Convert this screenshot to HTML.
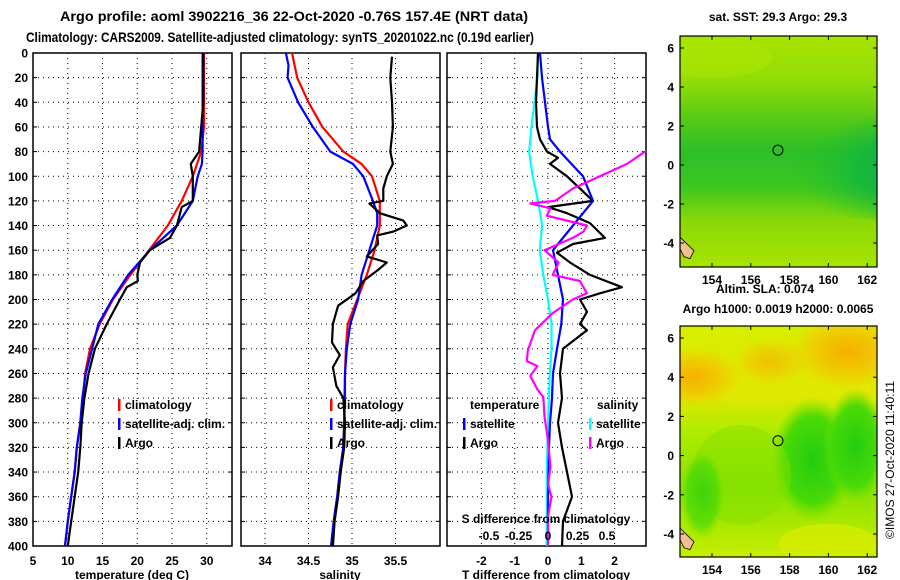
<!DOCTYPE html>
<html><head><meta charset="utf-8">
<style>
html,body{margin:0;padding:0;background:#fff;}
svg{display:block;font-family:"Liberation Sans",Arial,sans-serif;font-weight:bold;}
</style></head>
<body>
<svg id="chart" width="900" height="580" viewBox="0 0 900 580" xmlns="http://www.w3.org/2000/svg">
<defs>
<radialGradient id="sstTeal" cx="0.85" cy="0.55" r="0.6"><stop offset="0" stop-color="#00aa55"/><stop offset="0.6" stop-color="#10b640" stop-opacity="0.8"/><stop offset="1" stop-color="#22c030" stop-opacity="0"/></radialGradient>
<linearGradient id="sstBase" x1="0" y1="0" x2="0" y2="1">
<stop offset="0" stop-color="#a8e400"/><stop offset="0.2" stop-color="#90dc08"/><stop offset="0.38" stop-color="#50c818"/><stop offset="0.5" stop-color="#2cbf28"/><stop offset="0.65" stop-color="#3cc620"/><stop offset="0.8" stop-color="#8ad808"/><stop offset="1" stop-color="#a8e400"/></linearGradient>
<linearGradient id="slaBase" x1="0" y1="0" x2="0" y2="1">
<stop offset="0" stop-color="#d8ee00"/><stop offset="0.3" stop-color="#e0e800"/><stop offset="0.45" stop-color="#b0ec00"/><stop offset="0.7" stop-color="#88e200"/><stop offset="1" stop-color="#c8ee00"/></linearGradient>
<radialGradient id="orange" cx="0.5" cy="0.5" r="0.5"><stop offset="0" stop-color="#f5b000"/><stop offset="0.5" stop-color="#f5c000" stop-opacity="0.8"/><stop offset="1" stop-color="#f5c800" stop-opacity="0"/></radialGradient>
<radialGradient id="greenP" cx="0.5" cy="0.5" r="0.5"><stop offset="0" stop-color="#22cc10"/><stop offset="0.7" stop-color="#40d808" stop-opacity="0.9"/><stop offset="1" stop-color="#70e000" stop-opacity="0"/></radialGradient>
<clipPath id="c1"><rect x="33" y="53" width="199" height="493"/></clipPath>
<clipPath id="c2"><rect x="241" y="53" width="199" height="493"/></clipPath>
<clipPath id="c3"><rect x="447" y="53" width="199" height="493"/></clipPath>
<clipPath id="cm1"><rect x="680" y="36" width="197" height="231"/></clipPath>
<clipPath id="cm2"><rect x="680" y="326" width="197" height="231"/></clipPath>
</defs>
<text x="294" y="21" font-size="14" text-anchor="middle" textLength="468" lengthAdjust="spacingAndGlyphs">Argo profile: aoml 3902216_36 22-Oct-2020 -0.76S 157.4E (NRT data)</text>
<text x="280" y="42" font-size="14" text-anchor="middle" textLength="508" lengthAdjust="spacingAndGlyphs">Climatology: CARS2009. Satellite-adjusted climatology: synTS_20201022.nc (0.19d earlier)</text>
<g id="g"></g>
</svg>
<script>
// ---- data ----
const depthTicks = [0,20,40,60,80,100,120,140,160,180,200,220,240,260,280,300,320,340,360,380,400];
const tempTicks = [5,10,15,20,25,30];
const salTicks = ["34","34.5","35","35.5"];
const tdiffTicks = [-2,-1,0,1,2];
const sdiffTicks = [-0.5,-0.25,0,0.25,0.5];
const sdiffTickLabels = ["-0.5","-0.25","0","0.25","0.5"];
const lonTicks = [154,156,158,160,162];
const latTicks = [-4,-2,0,2,4,6];

const tClimDepth = [0,20,40,60,80,100,120,140,160,180,200,220,240,260,280,300,320,340,360,380,400];
const tClimVal   = [29.6,29.6,29.6,29.6,29.2,28.0,26.4,24.4,21.7,19.0,16.5,14.6,13.2,12.5,12.2,11.8,11.3,11.0,10.5,10.0,9.6];
const tSatDepth  = [0,20,40,60,80,90,100,120,140,160,180,200,220,240,260,280,300,320,340,360,380,400];
const tSatVal    = [29.4,29.4,29.4,29.4,29.4,29.3,28.7,28.0,25.7,21.8,18.7,16.4,14.4,13.5,12.6,12.1,11.8,11.3,11.0,10.5,10.0,9.6];
const tArgoDepth = [0,20,40,60,80,90,100,120,125,140,150,160,170,180,185,190,200,220,240,260,280,300,320,340,360,380,400];
const tArgoVal   = [29.5,29.5,29.5,29.2,28.9,27.7,28.0,28.0,26.4,25.7,24.7,21.8,20.4,20.0,20.1,18.5,17.5,15.6,13.9,13.0,12.4,12.0,11.8,11.5,11.0,10.5,10.0];

const sClimDepth = [0,20,40,60,80,90,100,120,140,160,180,200,220,240,260,280,300,320,340,360,380,400];
const sClimVal   = [34.31,34.37,34.50,34.66,34.90,35.11,35.23,35.32,35.32,35.26,35.17,35.06,34.95,34.93,34.92,34.92,34.91,34.90,34.86,34.83,34.79,34.76];
const sSatDepth  = [0,10,20,40,60,80,90,100,120,130,140,160,180,200,220,240,260,300,320,340,360,380,400];
const sSatVal    = [34.24,34.27,34.26,34.38,34.55,34.75,35.01,35.13,35.24,35.29,35.29,35.20,35.11,35.07,34.98,34.94,34.92,34.91,34.90,34.86,34.83,34.79,34.76];
const sArgoDepth = [3,20,40,60,80,90,100,110,120,122,130,136,140,145,148,155,165,170,176,185,195,205,220,235,245,255,270,280,300,320,340,360,380,400];
const sArgoVal   = [35.46,35.44,35.46,35.47,35.44,35.47,35.40,35.36,35.36,35.20,35.32,35.59,35.63,35.47,35.29,35.30,35.17,35.40,35.30,35.13,35.04,34.84,34.78,34.77,34.86,34.78,34.82,34.90,34.92,34.91,34.87,34.84,34.80,34.78];

const dTSatDepth = [0,20,40,60,70,80,100,120,140,160,180,200,220,240,260,280,300,320,360,400];
const dTSatVal   = [-0.24,-0.18,-0.09,0,0.06,0.36,1.05,1.35,0.75,0.15,0.30,0.45,0.40,0.27,0.15,0.12,0.06,0.03,0.0,0.0];
const dTArgoDepth = [0,20,40,60,70,80,85,90,100,120,125,130,138,150,155,162,170,180,190,195,200,210,220,225,240,260,280,300,320,340,360,380,400];
const dTArgoVal   = [-0.30,-0.33,-0.36,-0.33,-0.24,-0.03,0.30,0.06,0.57,1.35,0.0,0.57,1.26,1.71,0.75,0.27,0.66,1.26,2.22,1.56,0.96,1.17,0.96,1.17,0.45,0.36,0.42,0.30,0.42,0.57,0.72,0.45,0.42];
const dSSatDepth = [0,20,60,80,100,120,140,160,180,200,220,240,260,300,340,380,400];
const dSSatVal   = [-0.085,-0.09,-0.14,-0.16,-0.13,-0.085,-0.05,-0.07,-0.04,0.0,0.03,0.03,0.015,0.0,-0.01,-0.01,-0.01];
const dSArgoDepth = [75,90,100,110,120,122,126,132,140,145,150,160,170,180,185,195,200,211,225,241,250,254,262,273,279,295,314,336,350,360,376,400];
const dSArgoVal   = [0.90,0.67,0.44,0.21,0.06,-0.15,0.02,-0.01,0.33,0.30,0.21,-0.03,0.09,0.04,0.27,0.33,0.21,0.04,-0.11,-0.17,-0.18,-0.09,-0.15,-0.09,-0.04,-0.03,0.0,0.02,0.0,0.03,0.0,0.0];

// ---- scales ----
const yD = d => 53 + d*1.2325;
const xT = t => 33 + (t-5)*6.95;
const xS = s => 265 + (s-34)*87;
const xDT = t => 548 + t*33.3;
const xDS = s => 548 + s*118;
const xLon = l => 712 + (l-154)*19.4;
const yLat1 = a => 48 + (6-a)*19.5;
const yLat2 = a => 338 + (6-a)*19.6;

const NS="http://www.w3.org/2000/svg";
const G=document.getElementById('g');
function el(tag,attrs,parent){const e=document.createElementNS(NS,tag);for(const k in attrs)e.setAttribute(k,attrs[k]);(parent||G).appendChild(e);return e;}
function txt(s,x,y,anchor,size,parent){const t=el('text',{x:x,y:y,'text-anchor':anchor||'middle','font-size':size||12},parent);t.textContent=s;return t;}

function panel(name,x0,clip,xticks,xfn,labels){
  const g=el('g',{});
  
  
  depthTicks.forEach(d=>{ if(d>0&&d<400){const l=el('line',{x1:x0,x2:x0+199,y1:yD(d),y2:yD(d),stroke:'#000','stroke-width':1,'stroke-dasharray':'1,4'},g);
    
    }
    el('line',{x1:x0,x2:x0+4,y1:yD(d),y2:yD(d),stroke:'#000'},g);
    el('line',{x1:x0+195,x2:x0+199,y1:yD(d),y2:yD(d),stroke:'#000'},g);
  });
  xticks.forEach((v,i)=>{const x=xfn(v);
    const l=el('line',{x1:x,x2:x,y1:53,y2:546,stroke:'#000','stroke-dasharray':'1,4'},g);
    
    
    const t=txt(labels?labels[i]:String(v),x,565,'middle',12,g);
    
    
  });
  const r=el('rect',{x:x0,y:53,width:199,height:493,fill:'none',stroke:'#000','stroke-width':1.5},g);
  
  
  return g;
}
function line(depths,vals,xfn,color,clip,name){
  const pts=depths.map((d,i)=>xfn(vals[i]).toFixed(1)+','+yD(d).toFixed(1)).join(' ');
  const p=el('polyline',{points:pts,fill:'none',stroke:color,'stroke-width':2.2,'stroke-linejoin':'round','clip-path':'url(#'+clip+')'});
  
  
}

depthTicks.forEach(d=>{const t=txt(String(d),28,yD(d)+4.5,'end',12);
  
  });

panel('temperature-panel',33,'c1',tempTicks,xT);
panel('salinity-panel',241,'c2',salTicks.map(Number),xS,salTicks);
panel('difference-panel',447,'c3',tdiffTicks,xDT);

line(tClimDepth,tClimVal,xT,'#ff0000','c1','temp-climatology-line');
line(tSatDepth,tSatVal,xT,'#0000ff','c1','temp-satellite-line');
line(tArgoDepth,tArgoVal,xT,'#000000','c1','temp-argo-line');
line(sClimDepth,sClimVal,xS,'#ff0000','c2','sal-climatology-line');
line(sSatDepth,sSatVal,xS,'#0000ff','c2','sal-satellite-line');
line(sArgoDepth,sArgoVal,xS,'#000000','c2','sal-argo-line');
line(dSSatDepth,dSSatVal,xDS,'#00ffff','c3','sdiff-satellite-line');
line(dTArgoDepth,dTArgoVal,xDT,'#000000','c3','tdiff-argo-line');
line(dTSatDepth,dTSatVal,xDT,'#0000ff','c3','tdiff-satellite-line');
line(dSArgoDepth,dSArgoVal,xDS,'#ff00ff','c3','sdiff-argo-line');

[['temperature (deg C)',132,'temperature-axis-title'],['salinity',340,'salinity-axis-title'],['T difference from climatology',546,'tdiff-axis-title']].forEach(a=>{
  const t=txt(a[0],a[1],579,'middle',12);
  
  });
const sdt=txt('S difference from climatology',546,523,'middle',12);


sdiffTicks.forEach((v,i)=>{const t=txt(sdiffTickLabels[i],xDS(v),540,'middle',12);
  
  });

function leg(x,y,color,label,name){
  const g=el('g',{});
  
  
  el('rect',{x:x,y:y-10,width:2.5,height:12,fill:color},g);
  txt(label,x+7,y,'start',12,g);
}
leg(118,409,'#ff0000','climatology','legend-climatology');
leg(118,428,'#0000ff','satellite-adj. clim.','legend-satellite-adj');
leg(118,447,'#000000','Argo','legend-argo');
leg(330,409,'#ff0000','climatology','legend-sal-climatology');
leg(330,428,'#0000ff','satellite-adj. clim.','legend-sal-satellite-adj');
leg(330,447,'#000000','Argo','legend-sal-argo');
const lt=txt('temperature',470,409,'start',12);  
const ls=txt('salinity',597,409,'start',12);  
leg(463,428,'#0000ff','satellite','legend-t-satellite');
leg(463,447,'#000000','Argo','legend-t-argo');
leg(589,428,'#00ffff','satellite','legend-s-satellite');
leg(589,447,'#ff00ff','Argo','legend-s-argo');

function map(name,y0,yLat,clip,kind){
  const g=el('g',{});
  
  
  const c=el('g',{'clip-path':'url(#'+clip+')'},g);
  if(kind==='sst'){
    el('rect',{x:680,y:y0,width:197,height:231,fill:'url(#sstBase)'},c);
    el('ellipse',{cx:860,cy:yLat(0),rx:130,ry:55,fill:'url(#sstTeal)'},c);
    el('ellipse',{cx:xLon(154),cy:yLat(5.5),rx:60,ry:20,fill:'#b0e800',opacity:0.5},c);
  } else {
    el('rect',{x:680,y:y0,width:197,height:231,fill:'url(#slaBase)'},c);
    el('ellipse',{cx:xLon(153),cy:yLat(4),rx:50,ry:30,fill:'url(#orange)'},c);
    el('ellipse',{cx:xLon(161),cy:yLat(5.3),rx:60,ry:38,fill:'url(#orange)'},c);
    el('ellipse',{cx:xLon(157),cy:yLat(4.8),rx:38,ry:24,fill:'url(#orange)',opacity:0.7},c);
    el('ellipse',{cx:xLon(159.2),cy:yLat(-0.2),rx:42,ry:62,fill:'url(#greenP)'},c);
    el('ellipse',{cx:xLon(161.4),cy:yLat(0.5),rx:32,ry:58,fill:'url(#greenP)'},c);
    el('ellipse',{cx:xLon(155.5),cy:yLat(-1),rx:50,ry:50,fill:'#80e000',opacity:0.45},c);
    el('ellipse',{cx:xLon(153.5),cy:yLat(-2),rx:22,ry:45,fill:'url(#greenP)',opacity:0.7},c);
    el('ellipse',{cx:xLon(160),cy:yLat(-4.5),rx:50,ry:20,fill:'#d8ee00',opacity:0.7},c);
  }
  const land=el('path',{d:`M680 ${yLat(-3.7)} L688 ${yLat(-4.1)} L694 ${yLat(-4.4)} L690 ${yLat(-4.8)} L684 ${yLat(-4.7)} L680 ${yLat(-4.3)} Z`,fill:'#f2c08c',stroke:'#000','stroke-width':0.8},c);
  
  
  const circ=el('circle',{cx:xLon(157.4),cy:yLat(0.76),r:5,fill:'none',stroke:'#000','stroke-width':1},g);
  
  
  el('rect',{x:680,y:y0,width:197,height:231,fill:'none',stroke:'#000','stroke-width':1.2},g);
  lonTicks.forEach(l=>{const x=xLon(l);
    el('line',{x1:x,x2:x,y1:y0,y2:y0+4,stroke:'#000'},g);
    el('line',{x1:x,x2:x,y1:y0+227,y2:y0+231,stroke:'#000'},g);
    const t=txt(String(l),x,y0+248,'middle',12,g);
    
    });
  latTicks.forEach(a=>{const y=yLat(a);
    el('line',{x1:680,x2:684,y1:y,y2:y,stroke:'#000'},g);
    el('line',{x1:873,x2:877,y1:y,y2:y,stroke:'#000'},g);
    const t=txt(String(a),674,y+4.5,'end',12,g);
    
    });
}
map('sst-map',36,yLat1,'cm1','sst');
map('sla-map',326,yLat2,'cm2','sla');
const mt1=txt('sat. SST: 29.3 Argo: 29.3',778,21,'middle',12);  
const mt2=txt('Altim. SLA: 0.074',765,293,'middle',12);  
const mt3=txt('Argo h1000: 0.0019 h2000: 0.0065',778,313,'middle',12);  
const cr=txt('©IMOS 27-Oct-2020 11:40:11',0,0,'middle',12);
cr.setAttribute('transform','translate(894,460) rotate(-90)');
cr.setAttribute('font-weight','normal');


</script>
</body></html>
